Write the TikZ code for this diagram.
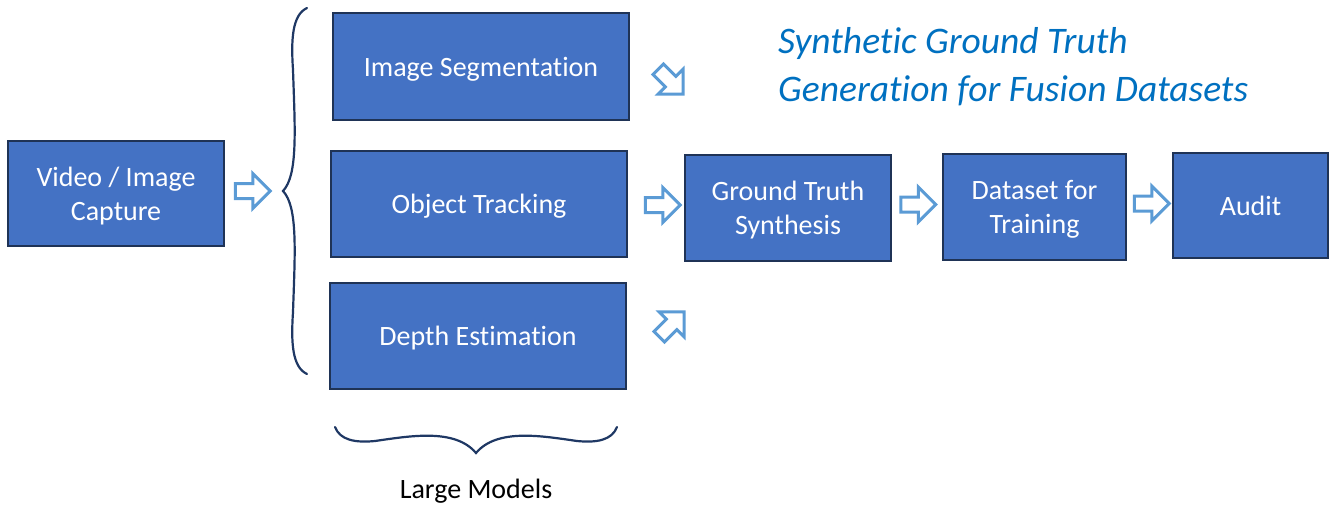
\documentclass[tikz,border=0pt]{standalone}
\usepackage{fontspec}
\setmainfont{Carlito}[Ligatures=NoCommon]
\usetikzlibrary{shapes.arrows}
\definecolor{boxblue}{HTML}{4472C4}
\definecolor{boxedge}{HTML}{1F3356}
\definecolor{arrowblue}{HTML}{5B9BD5}
\definecolor{titleblue}{HTML}{0070C0}
\definecolor{braceblue}{HTML}{1F3864}
\begin{document}
\begin{tikzpicture}[x=1pt,y=-1pt,
	blockbox/.style={rectangle, draw=boxedge, line width=2pt, fill=boxblue, text=white, align=center, inner sep=0pt, text depth=0pt, font=\fontsize{28}{34}\selectfont},
	hollowarrow/.style={single arrow, draw=arrowblue, line width=3pt, fill=white, inner xsep=0pt, inner ysep=6pt, minimum height=35pt, single arrow head extend=10pt, single arrow head indent=0pt},
	brace/.style={draw=braceblue, line width=2.2pt, line cap=round}]
	\useasboundingbox (0,0) rectangle (1329,513);
	% boxes
	\node (cap) at (116, 193.5)  [blockbox, minimum width=216pt, minimum height=105pt] {Video / Image\\Capture};
	\node (seg) at (481, 66.5)   [blockbox, minimum width=296pt, minimum height=107pt] {Image Segmentation};
	\node (trk) at (479, 204)    [blockbox, minimum width=296pt, minimum height=106pt] {Object Tracking};
	\node (dep) at (478, 336)    [blockbox, minimum width=296pt, minimum height=106pt] {Depth Estimation};
	\node (gts) at (788, 208)    [blockbox, minimum width=206pt, minimum height=106pt] {Ground Truth\\Synthesis};
	\node (dst) at (1034.5, 207) [blockbox, minimum width=183pt, minimum height=106pt] {Dataset for\\Training};
	\node (aud) at (1250.5, 205.5) [blockbox, minimum width=155pt, minimum height=105pt] {Audit};
	% arrows
	\node (a1) at (249, 191)    [hollowarrow] {};
	\node (a2) at (659, 205)    [hollowarrow] {};
	\node (a3) at (914.5, 204.5) [hollowarrow] {};
	\node (a4) at (1148, 203.5)  [hollowarrow] {};
	\node (a5) at (668, 79)     [hollowarrow, rotate=-45] {};
	\node (a6) at (669, 327)    [hollowarrow, rotate=45] {};
	% braces
	\draw[brace] (307,8) .. controls (292,15) and (291,40) .. (293,70)
		.. controls (295,130) and (298,175) .. (283,191)
		.. controls (298,207) and (295,252) .. (293,312)
		.. controls (291,342) and (292,367) .. (307,374);
	\draw[brace] (335,427) .. controls (340,440) and (355,443) .. (375,441)
		.. controls (410,436) and (455,428) .. (476,453)
		.. controls (497,428) and (542,436) .. (577,441)
		.. controls (597,443) and (612,440) .. (617,427);
	% labels
	\node (lm) at (476, 491) [font=\fontsize{28}{30}\selectfont] {Large Models};
	\node (title) at (778, 67) [anchor=west, text=titleblue, align=left, inner sep=0pt, font=\fontsize{37.5}{48}\selectfont\itshape] {Synthetic Ground Truth\\Generation for Fusion Datasets};
\end{tikzpicture}
\end{document}
